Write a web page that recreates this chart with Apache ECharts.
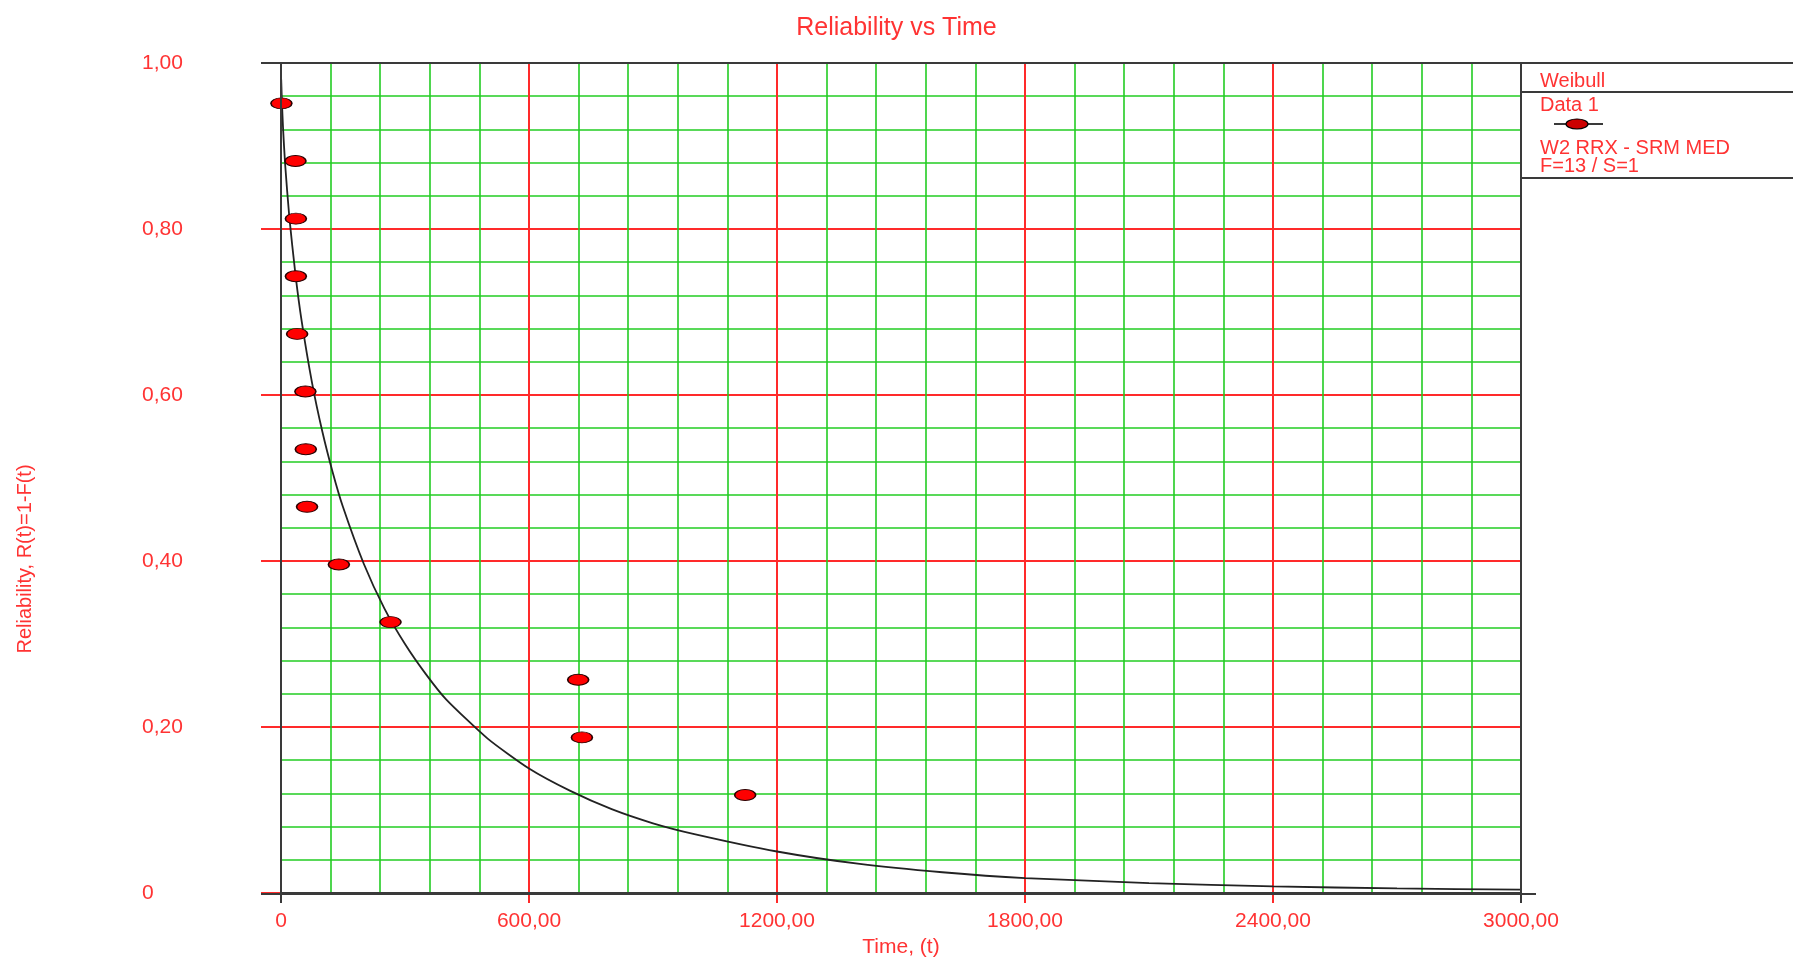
<!DOCTYPE html>
<html>
<head>
<meta charset="utf-8">
<title>Reliability vs Time</title>
<script src="https://cdn.jsdelivr.net/npm/echarts@6/dist/echarts.min.js"></script>
<style>
  html, body { margin: 0; padding: 0; background: #ffffff; }
  #chart { width: 1793px; height: 963px; }
</style>
</head>
<body>
<div id="chart"></div>
<script>
// Tick labels (decimal comma)
const X_TICK_LABELS = ['0', '600,00', '1200,00', '1800,00', '2400,00', '3000,00'];
const Y_TICK_LABELS = ['0', '0,20', '0,40', '0,60', '0,80', '1,00'];

// Observed failures: time and median-rank reliability
const FAIL_TIMES = [1, 35, 36, 36, 39, 59, 60, 63, 140, 265, 719, 728, 1123];
const FAIL_REL   = [0.9514, 0.8819, 0.8125, 0.7431, 0.6736, 0.6042, 0.5347,
                    0.4653, 0.3958, 0.3264, 0.2569, 0.1875, 0.1181];

// Fitted Weibull reliability curve R(t)
const CURVE_T = [0.5, 1, 2, 5, 10, 20, 35, 50, 75, 100, 125, 150, 200, 250, 300, 350,
                 400, 500, 600, 700, 800, 900, 1000, 1200, 1400, 1600, 1800, 2100,
                 2400, 2700, 3000];
const CURVE_R = [0.980, 0.972, 0.956, 0.921, 0.878, 0.815, 0.745, 0.689, 0.615, 0.556,
                 0.507, 0.465, 0.397, 0.343, 0.300, 0.264, 0.233, 0.186, 0.150, 0.123,
                 0.101, 0.084, 0.071, 0.050, 0.035, 0.025, 0.018, 0.012, 0.008, 0.0055,
                 0.004];

// Legend box text
const LEGEND_TITLE = 'Weibull';
const LEGEND_SERIES = 'Data 1';
const LEGEND_NOTES = ['W2 RRX - SRM MED', 'F=13 / S=1'];

const RED_TEXT = '#ff3333';
const RED_GRID = '#ff2a2a';
const GREEN_GRID = '#22cc22';
const FRAME = '#3a3a3a';
const FONT = '"Liberation Sans", Arial, sans-serif';

const W = 1793, H = 963;
const GRID = { left: 281, top: 63, right: 272, bottom: 69 };
const PX_R = W - GRID.right;   // right edge of plot
const PX_B = H - GRID.bottom;  // bottom edge of plot

const chart = echarts.init(document.getElementById('chart'), null, { renderer: 'canvas' });

const line = (x1, y1, x2, y2, w) => ({
  type: 'line', z: 100, silent: true,
  shape: { x1, y1, x2, y2 },
  style: { stroke: FRAME, lineWidth: w || 2 }
});
const text = (x, y, str, size) => ({
  type: 'text', z: 100, silent: true, x, y,
  style: { text: str, fill: RED_TEXT, font: (size || 20) + 'px ' + FONT,
           textVerticalAlign: 'middle' }
});

const option = {
  animation: false,
  backgroundColor: '#ffffff',
  title: {
    text: 'Reliability vs Time',
    left: 'center', top: 11,
    textStyle: { color: RED_TEXT, fontSize: 25, fontWeight: 'normal', fontFamily: FONT }
  },
  grid: { left: GRID.left, top: GRID.top, right: GRID.right, bottom: GRID.bottom, containLabel: false },
  xAxis: {
    type: 'value', min: 0, max: 3000, interval: 600,
    name: 'Time, (t)', nameLocation: 'middle', nameGap: 44,
    nameTextStyle: { color: RED_TEXT, fontSize: 21, fontFamily: FONT },
    axisLine: { show: true, onZero: false, lineStyle: { color: FRAME, width: 2 } },
    axisTick: { show: true, inside: false, length: 10, lineStyle: { color: RED_GRID, width: 2 } },
    axisLabel: {
      color: RED_TEXT, fontSize: 21, margin: 18, fontFamily: FONT,
      formatter: v => X_TICK_LABELS[Math.round(v / 600)]
    },
    splitLine: { show: true, lineStyle: { color: RED_GRID, width: 2 } },
    minorTick: { show: false, splitNumber: 5 },
    minorSplitLine: { show: true, lineStyle: { color: GREEN_GRID, width: 1.6 } }
  },
  yAxis: {
    type: 'value', min: 0, max: 1, interval: 0.2,
    axisLine: { show: true, onZero: false, lineStyle: { color: FRAME, width: 2 } },
    axisTick: { show: true, inside: false, length: 20, lineStyle: { color: RED_GRID, width: 2 } },
    axisLabel: {
      color: RED_TEXT, fontSize: 21, margin: 139, align: 'left', fontFamily: FONT,
      formatter: v => Y_TICK_LABELS[Math.round(v / 0.2)]
    },
    splitLine: { show: true, lineStyle: { color: RED_GRID, width: 2 } },
    minorTick: { show: false, splitNumber: 5 },
    minorSplitLine: { show: true, lineStyle: { color: GREEN_GRID, width: 1.6 } }
  },
  series: [
    {
      name: 'Weibull fit', type: 'line', z: 5,
      data: CURVE_T.map((t, i) => [t, CURVE_R[i]]),
      showSymbol: false, smooth: 0.2,
      lineStyle: { color: '#222222', width: 1.8 }
    },
    {
      name: 'Data 1', type: 'scatter', z: 6,
      data: FAIL_TIMES.map((t, i) => [t, FAIL_REL[i]]),
      symbol: 'circle', symbolSize: [21, 11],
      itemStyle: { color: '#ff0000', borderColor: '#2a0000', borderWidth: 1.2, opacity: 1 }
    }
  ],
  graphic: [
    // plot frame and legend box
    line(GRID.left - 20, GRID.top, W, GRID.top),
    line(GRID.left - 20, PX_B, PX_R + 15, PX_B),
    line(GRID.left, GRID.top, GRID.left, PX_B + 9),
    line(PX_R, GRID.top, PX_R, PX_B + 9),
    line(PX_R, 92, W, 92),
    line(PX_R, 178, W, 178),
    // legend contents
    text(1540, 81, LEGEND_TITLE),
    text(1540, 105, LEGEND_SERIES),
    line(1554, 124, 1603, 124, 2),
    {
      type: 'ellipse', z: 101, silent: true,
      shape: { cx: 1577, cy: 124, rx: 11, ry: 5 },
      style: { fill: '#cc0000', stroke: '#000000', lineWidth: 1.2 }
    },
    text(1540, 148, LEGEND_NOTES[0]),
    text(1540, 166, LEGEND_NOTES[1]),
    // vertical axis title
    {
      type: 'text', z: 100, silent: true, x: 25, y: 559, rotation: Math.PI / 2,
      style: { text: 'Reliability, R(t)=1-F(t)', fill: RED_TEXT,
               font: '20px ' + FONT,
               textAlign: 'center', textVerticalAlign: 'middle' }
    }
  ]
};

chart.setOption(option);
</script>
</body>
</html>
